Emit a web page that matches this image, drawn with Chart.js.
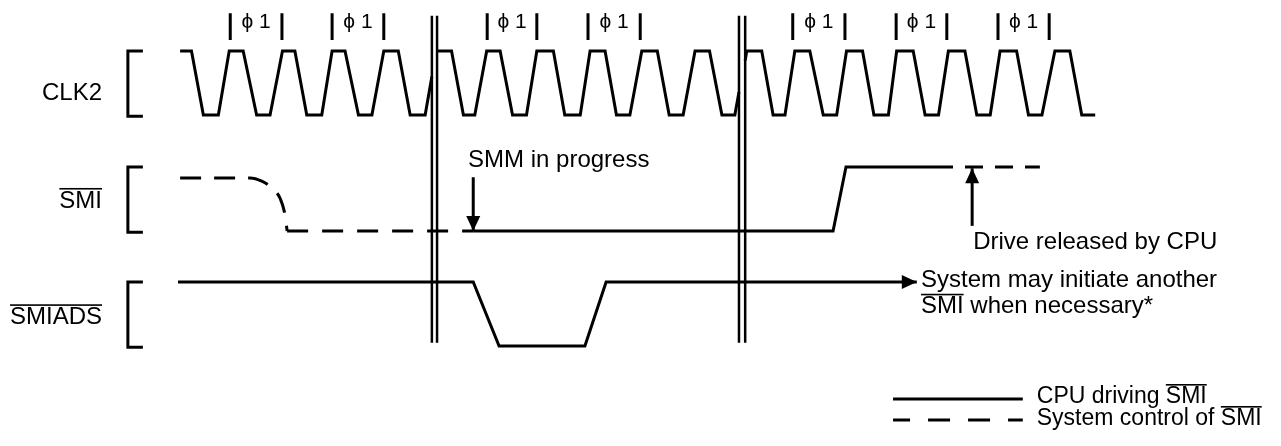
<!DOCTYPE html>
<html>
<head>
<meta charset="utf-8">
<title>SMI timing</title>
<script src="https://cdn.jsdelivr.net/npm/chart.js@4.4.0/dist/chart.umd.min.js"></script>
<style>
  html, body { margin: 0; padding: 0; background: #fff; }
  #wrap { width: 1281px; height: 446px; position: relative; }
</style>
</head>
<body>
<div id="wrap"><canvas id="timing"></canvas></div>
<script>
// Time is counted in CLK2 cycles, levels are logic 0 / 1

// CLK2, one array per window between the break marks
const clk2Seg1 = [[0.06,1],[0.28,1],[0.51,0],[0.80,0],[1.01,1],[1.28,1],[1.54,0],[1.80,0],[2.04,1],[2.28,1],[2.51,0],[2.80,0],
                  [3.00,1],[3.25,1],[3.51,0],[3.77,0],[4.00,1],[4.28,1],[4.51,0],[4.80,0],[4.93,0.6]];
const clk2Seg2 = [[5.03,1],[5.31,1],[5.54,0],[5.76,0],[5.99,1],[6.25,1],[6.49,0],[6.76,0],[6.96,1],[7.28,1],[7.50,0],[7.80,0],
                  [7.99,1],[8.28,1],[8.50,0],[8.76,0],[8.99,1],[9.29,1],[9.52,0],[9.79,0],[10.02,1],[10.30,1],[10.54,0],[10.79,0],[10.87,0.36]];
const clk2Seg3 = [[10.99,0.85],[11.02,1],[11.31,1],[11.53,0],[11.76,0],[11.95,1],[12.24,1],[12.50,0],[12.76,0],[12.95,1],[13.26,1],
                  [13.48,0],[13.76,0],[13.92,1],[14.24,1],[14.47,0],[14.73,0],[14.92,1],[15.24,1],[15.47,0],[15.73,0],[15.92,1],
                  [16.24,1],[16.47,0],[16.73,0],[16.98,1],[17.27,1],[17.50,0],[17.76,0]];

// SMI# : system drives it low, CPU holds it, then releases it
const smiSystemLead = [[0.06,0.83],[1.41,0.83],[1.64,0.78],[1.84,0.67],[2.00,0.50],[2.09,0.25],[2.13,0]];
const smiSystemLow  = [[2.13,0],[5.73,0]];
const smiCpuDrive   = [[5.73,0],[12.69,0],[12.94,1],[15.01,1]];
const smiSystemTail = [[15.01,1],[16.69,1]];

// SMIADS#
const smiads = [[0.02,1],[5.73,1],[6.23,0],[7.89,0],[8.30,1],[14.31,1]];

// time breaks and phi1 marks
const breaks = [[4.93,5.03],[10.87,10.99]];
const phiMarks = [[1.03,2.03],[3.00,4.00],[6.00,6.96],[7.95,8.96],[11.91,12.92],[13.91,14.89],[15.88,16.87]];

// arrows (time, level on the SMI row)
const smmArrow = [[5.73,0.84],[5.73,0]];
const releaseArrow = [[15.38,0.08],[15.38,0.98]];

const rowNames = ['CLK2', 'SMI', 'SMIADS'];
const rowBars = [false, true, true];

// layout
const X_MIN = -3.4236, X_MAX = 21.354;
const Y_MIN = -5.1719, Y_MAX = 1.7969;
const rowBase = [0, -1.8125, -3.61];
const FONT = '"Liberation Sans", Arial, Helvetica, sans-serif';

function pts(arr, row) {
    return arr.map(p => ({ x: p[0], y: rowBase[row] + p[1] }));
}

function line(data, extra) {
    return Object.assign({
        data: data,
        showLine: true,
        borderColor: '#000',
        backgroundColor: '#000',
        borderWidth: 3,
        pointRadius: 0,
        tension: 0,
        borderJoinStyle: 'miter',
        borderCapStyle: 'butt'
    }, extra || {});
}

const datasets = [];

// brackets in front of each row
rowBase.forEach((b, r) => {
    datasets.push(line(pts([[-0.66,1],[-0.95,1],[-0.95,-0.02],[-0.66,-0.02]], r)));
});

[clk2Seg1, clk2Seg2, clk2Seg3].forEach(seg => datasets.push(line(pts(seg, 0))));

datasets.push(line(pts(smiSystemLead, 1), { borderDash: [21, 13], cubicInterpolationMode: 'monotone' }));
datasets.push(line(pts(smiSystemLow, 1), { borderDash: [21, 14] }));
datasets.push(line(pts(smiCpuDrive, 1)));
datasets.push(line(pts(smiSystemTail, 1), { borderDash: [18, 12], borderDashOffset: 18 }));
datasets.push(line(pts(smiads, 2), { arrow: true }));
datasets.push(line(pts(smmArrow, 1), { arrow: true }));
datasets.push(line(pts(releaseArrow, 1), { arrow: true }));

// double break lines
breaks.forEach(b => {
    b.forEach(t => datasets.push(line([{ x: t, y: 1.55 }, { x: t, y: -3.56 }], { borderWidth: 2.5 })));
});

// phi1 bars
phiMarks.forEach(m => {
    m.forEach(t => datasets.push(line([{ x: t, y: 1.59 }, { x: t, y: 1.17 }])));
});

// legend samples
datasets.push(line([{ x: 13.85, y: -4.4375 }, { x: 16.36, y: -4.4375 }]));
datasets.push(line([{ x: 13.85, y: -4.766 }, { x: 16.36, y: -4.766 }], { borderDash: [22, 18], borderDashOffset: 5 }));

// text with optional overline on some parts
function barText(ctx, parts, x, y, align, rise) {
    let total = 0;
    parts.forEach(p => total += ctx.measureText(p[0]).width);
    let cx = align === 'right' ? x - total : x;
    ctx.textAlign = 'left';
    parts.forEach(([s, bar]) => {
        const w = ctx.measureText(s).width;
        ctx.fillText(s, cx, y);
        if (bar) ctx.fillRect(cx, y - rise, w, 1.6);
        cx += w;
    });
}

const annotations = {
    id: 'annotations',
    afterDatasetsDraw(chart) {
        const ctx = chart.ctx;
        const xs = chart.scales.x, ys = chart.scales.y;
        const X = t => xs.getPixelForValue(t);
        const Y = v => ys.getPixelForValue(v);
        ctx.save();
        ctx.fillStyle = '#000';
        ctx.textBaseline = 'alphabetic';

        // arrow heads
        chart.data.datasets.forEach((ds, i) => {
            if (!ds.arrow) return;
            const el = chart.getDatasetMeta(i).data;
            const a = el[el.length - 2], b = el[el.length - 1];
            const ang = Math.atan2(b.y - a.y, b.x - a.x);
            const len = 15, hw = 7;
            ctx.beginPath();
            ctx.moveTo(b.x, b.y);
            ctx.lineTo(b.x - len * Math.cos(ang) + hw * Math.sin(ang), b.y - len * Math.sin(ang) - hw * Math.cos(ang));
            ctx.lineTo(b.x - len * Math.cos(ang) - hw * Math.sin(ang), b.y - len * Math.sin(ang) + hw * Math.cos(ang));
            ctx.closePath();
            ctx.fill();
        });

        // row names
        ctx.font = '24px ' + FONT;
        const nameLevel = [0.23, 0.36, 0.34];
        rowNames.forEach((n, r) => {
            barText(ctx, [[n, rowBars[r]]], X(-1.45), Y(rowBase[r] + nameLevel[r]), 'right', 20);
        });

        // phi1 labels
        ctx.font = '21px ' + FONT;
        phiMarks.forEach(m => {
            const cx = (X(m[0]) + X(m[1])) / 2;
            ctx.textAlign = 'center';
            ctx.fillText('\u03d5 1', cx, Y(1.36));
        });

        ctx.font = '24px ' + FONT;
        barText(ctx, [['SMM in progress', false]], X(5.63), Y(rowBase[1] + 1.0), 'left', 19);
        barText(ctx, [['Drive released by CPU', false]], X(15.40), Y(rowBase[1] - 0.28), 'left', 19);
        barText(ctx, [['System may initiate another', false]], X(14.39), Y(rowBase[2] + 0.92), 'left', 19);
        barText(ctx, [['SMI', true], [' when necessary*', false]], X(14.39), Y(rowBase[2] + 0.52), 'left', 19);

        ctx.font = '23px ' + FONT;
        barText(ctx, [['CPU driving ', false], ['SMI', true]], X(16.63), Y(-4.5), 'left', 19);
        barText(ctx, [['System control of ', false], ['SMI', true]], X(16.63), Y(-4.844), 'left', 19);
        ctx.restore();
    }
};

new Chart(document.getElementById('timing'), {
    type: 'scatter',
    data: { datasets: datasets },
    options: {
        responsive: true,
        maintainAspectRatio: false,
        animation: false,
        events: [],
        layout: { padding: 0 },
        plugins: { legend: { display: false }, tooltip: { enabled: false } },
        scales: {
            x: { type: 'linear', display: false, min: X_MIN, max: X_MAX },
            y: { type: 'linear', display: false, min: Y_MIN, max: Y_MAX }
        }
    },
    plugins: [annotations]
});
</script>
</body>
</html>
